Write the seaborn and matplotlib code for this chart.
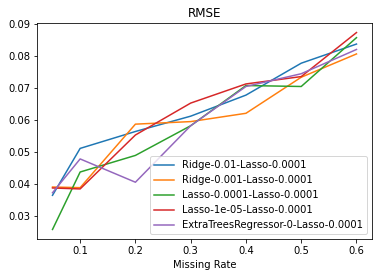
import matplotlib
matplotlib.use("Agg")
import matplotlib.pyplot as plt
import seaborn as sns
import pandas as pd

missing_rate = [0.05, 0.1, 0.2, 0.3, 0.4, 0.5, 0.6]
ridge_001 = [0.0364, 0.0511, 0.0564, 0.0612, 0.0678, 0.0778, 0.0838]
ridge_0001 = [0.0390, 0.0388, 0.0587, 0.0595, 0.0621, 0.0734, 0.0807]
lasso_00001 = [0.0257, 0.0437, 0.0489, 0.0582, 0.0708, 0.0705, 0.0858]
lasso_1e05 = [0.0387, 0.0384, 0.0553, 0.0653, 0.0713, 0.0736, 0.0874]
extratrees = [0.0372, 0.0478, 0.0405, 0.0582, 0.0705, 0.0745, 0.0821]

series_names = [
    "Ridge-0.01-Lasso-0.0001",
    "Ridge-0.001-Lasso-0.0001",
    "Lasso-0.0001-Lasso-0.0001",
    "Lasso-1e-05-Lasso-0.0001",
    "ExtraTreesRegressor-0-Lasso-0.0001",
]
series_values = [ridge_001, ridge_0001, lasso_00001, lasso_1e05, extratrees]

rows = []
for name, vals in zip(series_names, series_values):
    for x, v in zip(missing_rate, vals):
        rows.append({"Missing Rate": x, "RMSE": v, "method": name})
df = pd.DataFrame(rows)

plt.rcParams["font.family"] = ["DejaVu Sans"]
plt.rcParams["font.size"] = 10

fig = plt.figure(figsize=(378 / 72, 278 / 72), dpi=72)
ax = fig.add_axes([0.0987, 0.1392, 0.9833 - 0.0987, 0.9183 - 0.1392])
sns.lineplot(data=df, x="Missing Rate", y="RMSE", hue="method",
             hue_order=series_names, palette="tab10", ax=ax, linewidth=1.5)
ax.set_title("RMSE")
ax.set_ylabel("")
ax.set_xlabel("Missing Rate")
ax.set_xticks([0.1, 0.2, 0.3, 0.4, 0.5, 0.6])
ax.set_yticks([0.03, 0.04, 0.05, 0.06, 0.07, 0.08, 0.09])
ax.set_xticklabels(["0.1", "0.2", "0.3", "0.4", "0.5", "0.6"])
ax.set_yticklabels(["0.03", "0.04", "0.05", "0.06", "0.07", "0.08", "0.09"])
handles, labels = ax.get_legend_handles_labels()
ax.legend(handles, labels, loc="lower right")
fig.savefig("out.png", dpi=72)
